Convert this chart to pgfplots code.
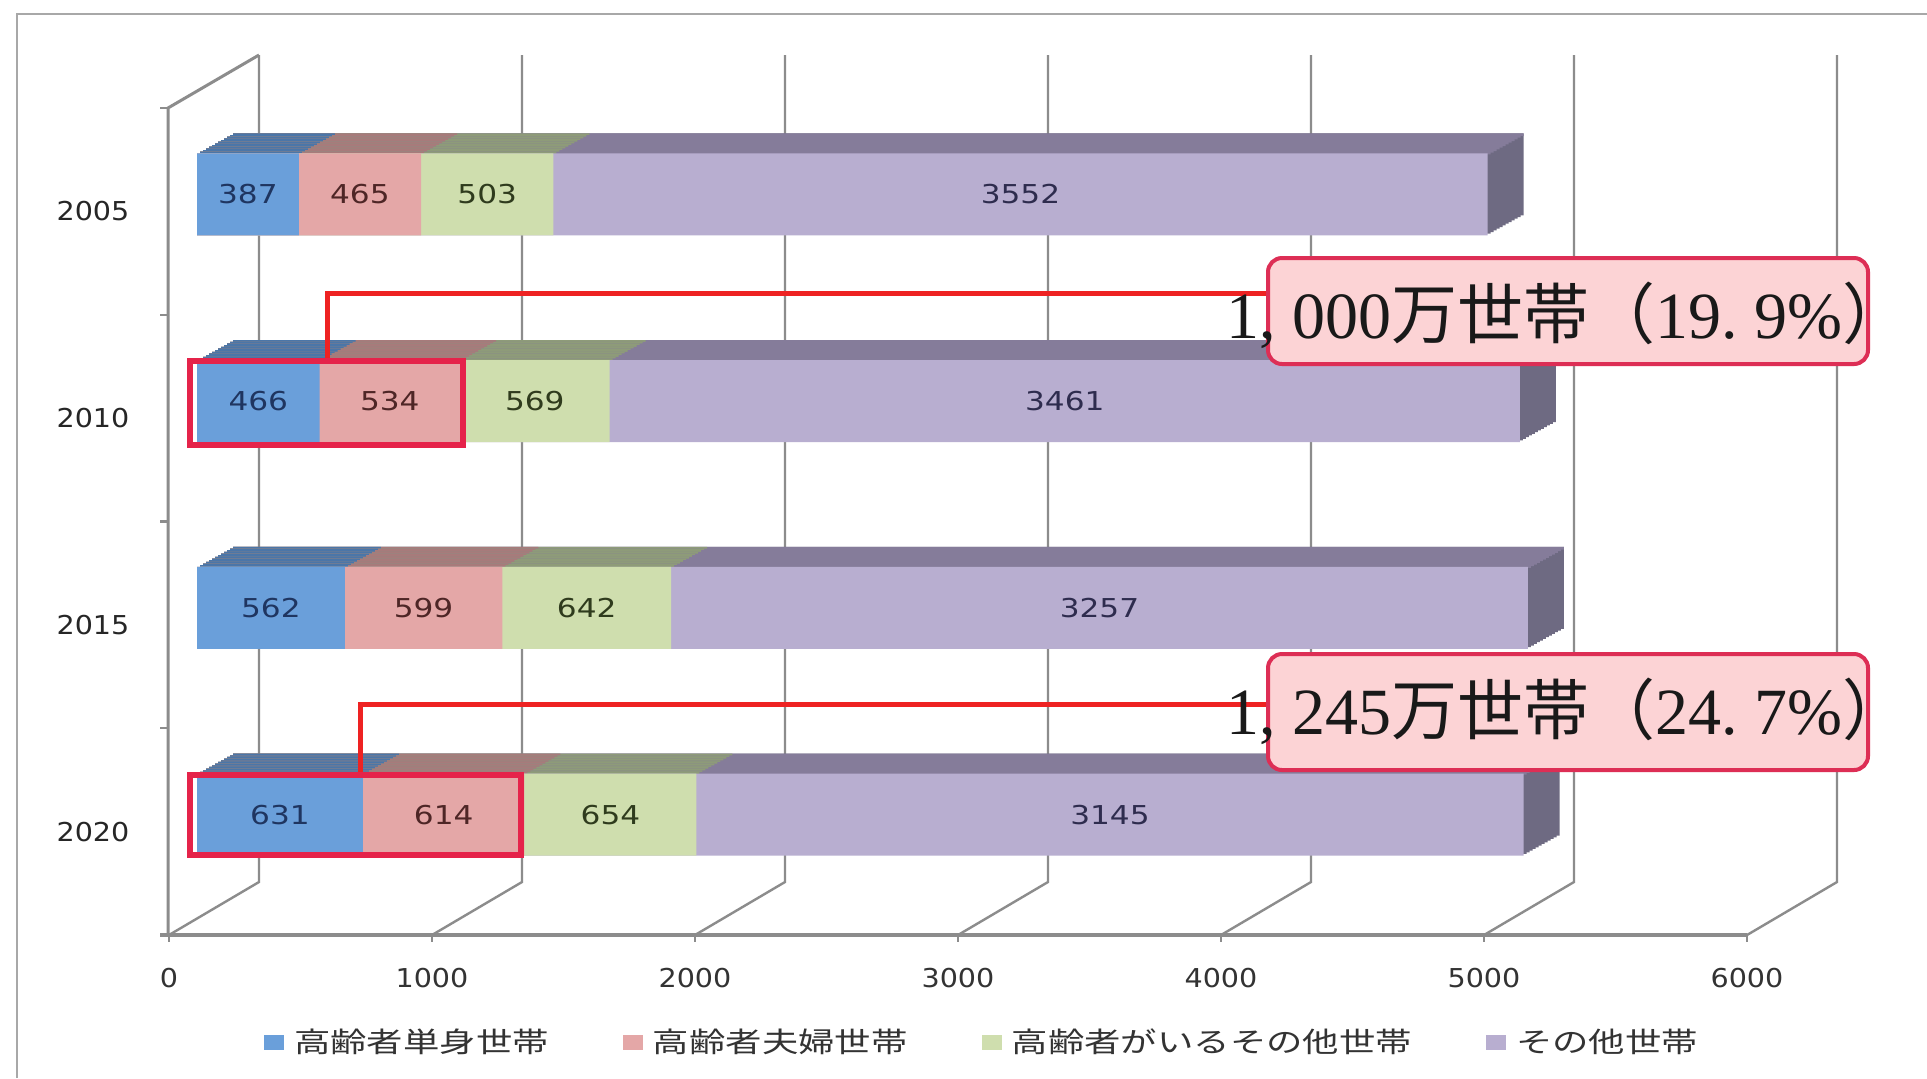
\documentclass[border=0pt]{standalone}
\usepackage{fontspec}
\usepackage{pgfplots}
\usepackage{pgfplotstable}
\pgfplotsset{compat=1.18}
\setmainfont{DejaVu Sans}
\newfontfamily\numfont[FakeStretch=1.1]{DejaVu Sans}
\newfontfamily\lblfont[FakeStretch=1.2]{DejaVu Sans}
\newfontfamily\legfont[FakeStretch=1.3]{Noto Sans CJK JP}
\newfontfamily\anjp{Noto Sans CJK JP}
\newfontfamily\anser{Liberation Serif}

\definecolor{gridc}{HTML}{8C8C8C}
\definecolor{bordc}{HTML}{A8A8A8}
\definecolor{bluF}{HTML}{6A9FDA}
\definecolor{bluT}{HTML}{4B76A8}
\definecolor{pnkF}{HTML}{E4A7A7}
\definecolor{pnkT}{HTML}{A77B7B}
\definecolor{greF}{HTML}{CFDEAE}
\definecolor{greT}{HTML}{8E9B79}
\definecolor{purF}{HTML}{B8AED0}
\definecolor{purT}{HTML}{857C9A}
\definecolor{purS}{HTML}{6E6A82}
\definecolor{bluL}{HTML}{1F3560}
\definecolor{pnkL}{HTML}{4E2626}
\definecolor{greL}{HTML}{2F3B1D}
\definecolor{purL}{HTML}{2E2C4E}
\definecolor{conn}{HTML}{EE2222}
\definecolor{rectc}{HTML}{E5234A}
\definecolor{boxf}{HTML}{FCD3D5}
\definecolor{boxd}{HTML}{DD2E55}

\pgfplotstableread{
cat a b c d
0 387 465 503 3552
1 466 534 569 3461
2 562 599 642 3257
3 631 614 654 3145
}\datatable

\pgfplotsset{
  bars/.style={xbar, bar width=41pt, bar shift=0pt, draw=none},
  ext/.style={xshift={#1*1.5pt}, yshift={#1*0.8333pt}, forget plot},
  sliver/.style={xbar, bar width=1.3pt, bar shift=0pt, draw=none, forget plot,
    xshift={#1*1.5pt}, yshift={#1*0.8333pt+19.85pt}},
  lbl/.style={only marks, mark=*, mark size=0pt, mark options={draw=none,fill=none}, forget plot,
    nodes near coords, point meta=explicit symbolic,
    every node near coord/.style={anchor=center, font=\lblfont\fontsize{13pt}{15pt}\selectfont, text=#1}},
}

\newcommand\antext[2]{{\fontsize{33pt}{37pt}\selectfont\anser #1{\anjp 万世帯（}#2\%{\anjp ）}}}

\begin{document}
\begin{tikzpicture}
\begin{scope}[x=0.5pt,y=-0.5pt]
\useasboundingbox (0,0) rectangle (1927,1078);
\fill[white] (0,0) rectangle (1927,1078);
\draw[bordc, line width=1pt] (17,1078) -- (17,14) -- (1927,14);
\foreach \k in {0,...,6} {
  \draw[gridc, line width=1.2pt] ({169+263*\k},935) -- ({259+263*\k},882) -- ({259+263*\k},55);
  \draw[gridc, line width=1.2pt] ({169+263*\k},935) -- ({169+263*\k},942);
}
\draw[gridc, line width=2pt] (160,935) -- (1747,935);
\draw[gridc, line width=1.5pt] (168,935) -- (168,108) -- (259,55);
\foreach \j in {0,...,4} \draw[gridc, line width=1.2pt] (160,{108+206.75*\j}) -- (168,{108+206.75*\j});
\end{scope}

\begin{axis}[
  at={(98.5pt,-459pt)}, anchor=south west, scale only axis,
  width=789pt, height=413.5pt,
  xmin=0, xmax=6000, ymin=-0.5, ymax=3.5, y dir=reverse,
  enlargelimits=false, clip=false,
  axis line style={draw=none}, major tick length=0pt,
  xtick={0,1000,2000,3000,4000,5000,6000},
  xticklabels={0,1000,2000,3000,4000,5000,6000},
  ytick={0,1,2,3}, yticklabels={2005,2010,2015,2020},
  xticklabel style={anchor=center, xshift=-14pt, yshift=-30pt, font=\numfont\fontsize{13pt}{15pt}\selectfont, text=black!80},
  yticklabel style={anchor=center, xshift=-52pt, yshift=-8.5pt, font=\numfont\fontsize{13pt}{15pt}\selectfont, text=black!85},
  legend columns=4, reverse legend,
  legend style={at={(0.4975,-0.150)}, anchor=center, draw=none, fill=none, inner sep=0pt,
    font=\legfont\fontsize{14pt}{16pt}\selectfont, text=black!80, nodes={inner sep=1pt},
    /tikz/every odd column/.append style={column sep=4pt},
    /tikz/every even column/.append style={column sep=36pt}},
  legend image code/.code={\fill[#1] (0pt,-3.75pt) rectangle (10pt,3.75pt);},
]
% side faces (purple, darker)
\pgfplotsinvokeforeach{12,11,...,1}{
  \addplot[bars, ext=#1, fill=purS] table[x expr=\thisrow{a}+\thisrow{b}+\thisrow{c}+\thisrow{d}, y=cat] {\datatable};
}
% top faces
\pgfplotsinvokeforeach{12,11,...,1}{
  \addplot[sliver=#1, fill=purT] table[x expr=\thisrow{a}+\thisrow{b}+\thisrow{c}+\thisrow{d}, y=cat] {\datatable};
  \addplot[bars, ext=#1, fill=greT] table[x expr=\thisrow{a}+\thisrow{b}+\thisrow{c}, y=cat] {\datatable};
  \addplot[bars, ext=#1, fill=pnkT] table[x expr=\thisrow{a}+\thisrow{b}, y=cat] {\datatable};
  \addplot[bars, ext=#1, fill=bluT] table[x=a, y=cat] {\datatable};
}
% front faces
\addplot[bars, fill=purF] table[x expr=\thisrow{a}+\thisrow{b}+\thisrow{c}+\thisrow{d}, y=cat] {\datatable};
\addlegendentry{その他世帯}
\addplot[bars, fill=greF] table[x expr=\thisrow{a}+\thisrow{b}+\thisrow{c}, y=cat] {\datatable};
\addlegendentry{高齢者がいるその他世帯}
\addplot[bars, fill=pnkF] table[x expr=\thisrow{a}+\thisrow{b}, y=cat] {\datatable};
\addlegendentry{高齢者夫婦世帯}
\addplot[bars, fill=bluF] table[x=a, y=cat] {\datatable};
\addlegendentry{高齢者単身世帯}

\addplot[lbl=bluL] table[x expr=\thisrow{a}/2, y=cat, meta=a] {\datatable};
\addplot[lbl=pnkL] table[x expr=\thisrow{a}+\thisrow{b}/2, y=cat, meta=b] {\datatable};
\addplot[lbl=greL] table[x expr=\thisrow{a}+\thisrow{b}+\thisrow{c}/2, y=cat, meta=c] {\datatable};
\addplot[lbl=purL] table[x expr=\thisrow{a}+\thisrow{b}+\thisrow{c}+\thisrow{d}/2, y=cat, meta=d] {\datatable};
\end{axis}

\begin{scope}[x=0.5pt,y=-0.5pt]
\draw[conn, line width=2.5pt] (327,359) -- (327,293) -- (1270,293);
\draw[conn, line width=2.5pt] (360,773) -- (360,704) -- (1270,704);
\draw[rectc, line width=3pt] (190,361) rectangle (463,445);
\draw[rectc, line width=3pt] (190,775) rectangle (521,855);
\draw[boxd, line width=2pt, fill=boxf, rounded corners=7pt] (1268,258) rectangle (1868,364);
\draw[boxd, line width=2pt, fill=boxf, rounded corners=7pt] (1268,654) rectangle (1868,770);
\node[anchor=base west, inner sep=0pt, text=black!90] at (1226,338) {\antext{1,\hspace{0.25em}000}{19.\hspace{0.25em}9}};
\node[anchor=base west, inner sep=0pt, text=black!90] at (1226,734) {\antext{1,\hspace{0.25em}245}{24.\hspace{0.25em}7}};
\end{scope}
\end{tikzpicture}
\end{document}
